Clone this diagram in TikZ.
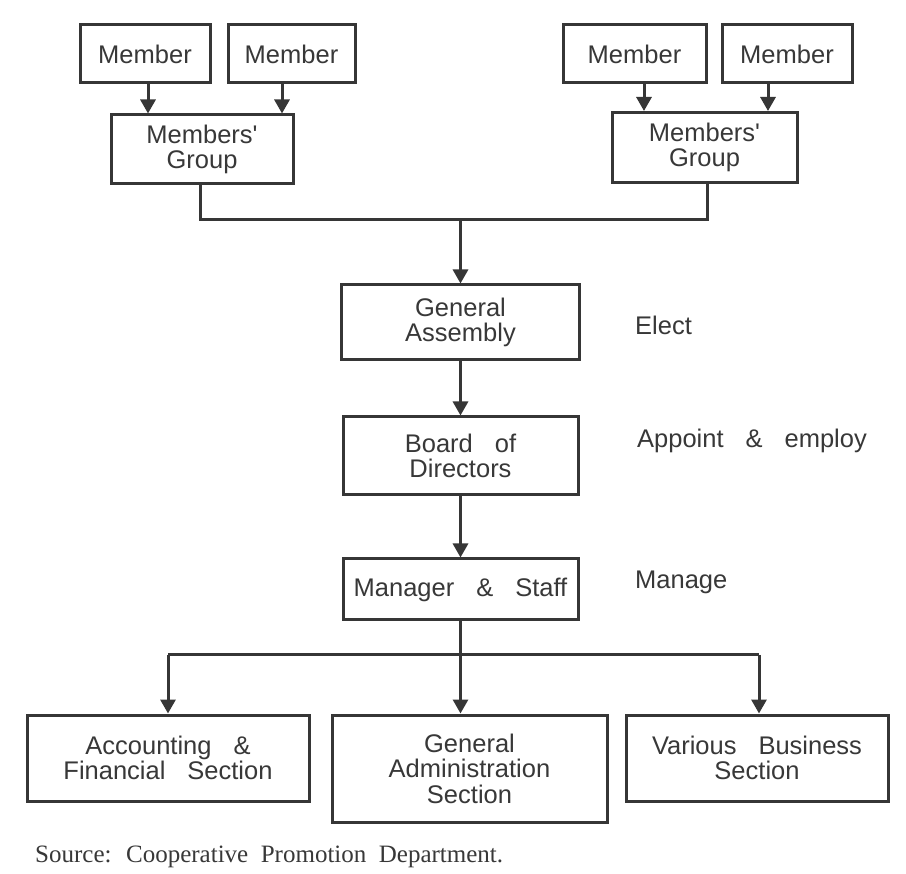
\documentclass[tikz,border=0pt]{standalone}
\usepackage{fontspec}
\setmainfont{Liberation Serif}[WordSpace=2]
\newfontfamily\boxfont{Liberation Sans}[WordSpace=3.1]
\usetikzlibrary{arrows.meta}
\definecolor{linec}{HTML}{363636}
\definecolor{textc}{HTML}{383838}
\begin{document}
\begin{tikzpicture}[x=1pt,y=-1pt,
  box/.style={draw=linec, line width=3pt, align=center, inner sep=0pt,
    font=\boxfont\fontsize{25.5}{25.5}\selectfont, text=textc},
  lbl/.style={font=\boxfont\fontsize{25.5}{25.5}\selectfont, text=textc, inner sep=0pt},
  conn/.style={draw=linec, line width=3pt},
  arr/.style={conn, -{Triangle[width=15pt,length=14pt]}}]
\fill[white] (0,0) rectangle (906,874);
\useasboundingbox (0,0) rectangle (906,874);
% top members
\node[box, minimum width=130pt, minimum height=58pt] (m1) at (145,54) {Member};
\node[box, minimum width=127pt, minimum height=58pt] (m2) at (291.5,54) {Member};
\node[box, minimum width=143pt, minimum height=58pt] (m3) at (634.5,54) {Member};
\node[box, minimum width=130pt, minimum height=58pt] (m4) at (787,54) {Member};
\node[box, minimum width=182pt, minimum height=69pt] (g1) at (202,149.5) {Members'\\Group};
\node[box, minimum width=185pt, minimum height=70pt] (g2) at (704.5,147.5) {Members'\\Group};
\node[box, minimum width=238pt, minimum height=75pt] (ga) at (460.5,322.5) {General\\Assembly};
\node[box, minimum width=235pt, minimum height=78pt] (bd) at (460.5,456) {Board of\\Directors};
\node[box, minimum width=235pt, minimum height=61pt] (mg) at (460.5,589.5) {Manager \& Staff};
\node[box, minimum width=282pt, minimum height=86pt] (acc) at (168,758) {Accounting \&\\Financial Section};
\node[box, minimum width=275pt, minimum height=107pt] (adm) at (469.5,768.5) {General\\Administration\\Section};
\node[box, minimum width=262pt, minimum height=86pt] (var) at (757,758) {Various Business\\Section};
% side labels
\node[lbl, anchor=west] (el) at (635,325) {Elect};
\node[lbl, anchor=west] (ap) at (637,441) {Appoint \& employ};
\node[lbl, anchor=west] (ma) at (635,582) {Manage};
\node[anchor=west, inner sep=0pt, text=textc, font=\fontsize{25}{27}\selectfont] (src) at (35,857) {Source: Cooperative Promotion Department.};
% member arrows
\draw[arr] ([xshift=3pt]m1.south) -- ([xshift=3pt]m1.south |- g1.north);
\draw[arr] ([xshift=-9.5pt]m2.south) -- ([xshift=-9.5pt]m2.south |- g1.north);
\draw[arr] ([xshift=9.5pt]m3.south) -- ([xshift=9.5pt]m3.south |- g2.north);
\draw[arr] ([xshift=-19pt]m4.south) -- ([xshift=-19pt]m4.south |- g2.north);
% groups to assembly
\coordinate (j1) at (460.5,220);
\draw[conn] ([xshift=-2pt]g1.south) -- ([xshift=-2pt]g1.south |- j1) -- ([xshift=3pt]g2.south |- j1) -- ([xshift=3pt]g2.south);
\draw[arr] (j1) -- (ga.north);
\draw[arr] (ga.south) -- (bd.north);
\draw[arr] (bd.south) -- (mg.north);
% bottom branch
\coordinate (j2) at (460.5,655);
\draw[conn] (mg.south) -- (j2);
\draw[conn] (acc.north |- j2) -- ([xshift=2pt]var.north |- j2);
\draw[arr] (acc.north |- j2) -- (acc.north);
\draw[arr] (j2) -- (j2 |- adm.north);
\draw[arr] ([xshift=2pt]var.north |- j2) -- ([xshift=2pt]var.north);
\end{tikzpicture}
\end{document}
